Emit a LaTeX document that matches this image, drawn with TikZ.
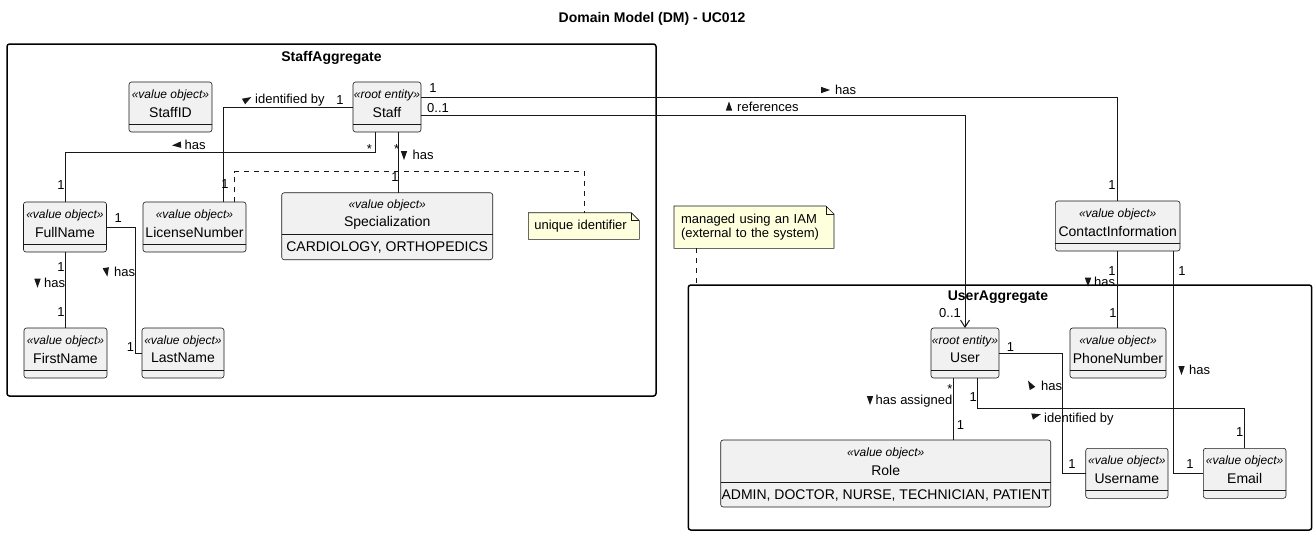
\documentclass[tikz,border=0pt]{standalone}
\usepackage{fontspec}
\setmainfont{Liberation Sans}
\usetikzlibrary{arrows.meta}
\definecolor{clsfill}{HTML}{F1F1F1}
\definecolor{ink}{HTML}{181818}
\definecolor{notefill}{HTML}{FEFFDD}
\tikzset{
  cls/.style={draw=ink, fill=clsfill, line width=0.6pt, rounded corners=2.5pt, inner sep=0pt, outer sep=0pt, anchor=north west},
  clsline/.style={draw=ink, line width=0.6pt},
  stereo/.style={font=\fontsize{12}{14}\selectfont\itshape, inner sep=0pt},
  cname/.style={font=\fontsize{14}{16}\selectfont, inner sep=0pt},
  pkg/.style={draw=black, line width=1.5pt, rounded corners=2.5pt, inner sep=0pt, outer sep=0pt, anchor=north west},
  pkgname/.style={font=\fontsize{14}{16}\selectfont\bfseries, inner sep=0pt},
  assoc/.style={draw=ink, line width=1pt},
  notelink/.style={draw=ink, line width=1pt, dash pattern=on 5pt off 5pt},
  notebox/.style={inner ysep=0pt, outer sep=0pt, anchor=north west, align=left, font=\fontsize{13}{14}\selectfont},
  noteshape/.style={draw=ink, fill=notefill, line width=0.6pt},
  lbl/.style={font=\fontsize{13}{15}\selectfont, inner sep=0pt},
  dirtri/.style={fill=ink},
}
\newcommand\umlbox[6]{%
  \node[cls, minimum width=#4pt, minimum height=50pt] (#1) at (#2,#3) {};
  \draw[clsline] ([yshift=-42pt]#1.north west) -- ([yshift=-42pt]#1.north east);
  \node[stereo] at ([yshift=-13pt]#1.north) {«#5»};
  \node[cname] at ([yshift=-30pt]#1.north) {#6};}
\newcommand\enumbox[7]{%
  \node[cls, minimum width=#4pt, minimum height=67pt] (#1) at (#2,#3) {};
  \draw[clsline] ([yshift=-42pt]#1.north west) -- ([yshift=-42pt]#1.north east);
  \node[stereo] at ([yshift=-13pt]#1.north) {«#5»};
  \node[cname] at ([yshift=-30pt]#1.north) {#6};
  \node[cname] at ([yshift=-55pt]#1.north) {#7};}
\newcommand\noteframe[1]{%
  \path[noteshape] (#1.north west) -- ([xshift=-8pt]#1.north east) -- ([yshift=-8pt]#1.north east) -- (#1.south east) -- (#1.south west) -- cycle;
  \draw[ink, line width=0.6pt] ([xshift=-8pt]#1.north east) |- ([yshift=-8pt]#1.north east);}
% direction triangle: x, y, page angle (counter-clockwise)
\newcommand\dirmark[3]{%
  \fill[dirtri, shift={(#1,#2)}, rotate=#3] (5,0) -- (-4,-3.2) -- (-4,3.2) -- cycle;}
\begin{document}
\begin{tikzpicture}[x=1pt, y=-1pt]
\useasboundingbox (0,0) rectangle (1316,536);
% title
\node[pkgname] (title) at (652,19) {Domain Model (DM) - UC012};
% packages
\node[pkg, minimum width=649pt, minimum height=352pt] (spkg) at (7,44) {};
\node[pkgname] (spkgname) at (331.5,58) {StaffAggregate};
\node[pkg, minimum width=623.4pt, minimum height=245pt] (upkg) at (688.3,285) {};
\node[pkgname] (upkgname) at (998,297) {UserAggregate};
% classes
\umlbox{staffid}{129}{82}{83}{value object}{StaffID}
\umlbox{staff}{353}{82}{68}{root entity}{Staff}
\umlbox{fullname}{23.5}{202}{83}{value object}{FullName}
\umlbox{license}{143}{202}{103}{value object}{LicenseNumber}
\enumbox{special}{281.7}{192.7}{211}{value object}{Specialization}{CARDIOLOGY, ORTHOPEDICS}
\umlbox{firstname}{24}{328}{83}{value object}{FirstName}
\umlbox{lastname}{142}{328}{82}{value object}{LastName}
\umlbox{contact}{1055.4}{201}{124.6}{value object}{ContactInformation}
\umlbox{user}{931}{328}{68}{root entity}{User}
\umlbox{phone}{1070}{328}{96}{value object}{PhoneNumber}
\enumbox{role}{720.7}{440}{330}{value object}{Role}{ADMIN, DOCTOR, NURSE, TECHNICIAN, PATIENT}
\umlbox{username}{1085.7}{448.3}{82.3}{value object}{Username}
\umlbox{email}{1203.3}{448.3}{82.7}{value object}{Email}
% notes
\node[notebox, text width=99pt, inner xsep=6pt, minimum height=26.6pt] (unote) at (528.3,212.7) {};
\noteframe{unote}
\node[notebox, text width=99pt, inner xsep=6pt, minimum height=26.6pt] (unotetext) at (528.3,212.7) {unique identifier};
\node[notebox, text width=146pt, inner xsep=7pt, minimum height=42.3pt] (mnote) at (674,206) {};
\noteframe{mnote}
\node[notebox, text width=146pt, inner xsep=7pt, minimum height=42.3pt] (mnotetext) at (674,206) {managed using an IAM\\(external to the system)};
% connectors StaffAggregate
\draw[assoc] (staff.west) -| ([xshift=28.5pt]license.north);
\draw[assoc] ([xshift=-12pt]staff.south) -- ++(0,20) -| (fullname.north);
\draw[assoc] ([xshift=11.7pt]staff.south) -- ([xshift=11.7pt]staff.south |- special.north);
\draw[assoc] (fullname.south) -- (fullname.south |- firstname.north);
\draw[assoc] (fullname.east) -| ([xshift=-6.5pt]lastname.west) -- (lastname.west);
\draw[notelink] ([xshift=39.8pt]license.north) -- ++(0,-30.3) -| ([xshift=1pt]unote.north);
% cross-package connectors
\draw[assoc] ([yshift=9.3pt]staff.east) -| (contact.north);
\draw[assoc, -{Straight Barb[length=7pt,width=9pt]}] ([yshift=-8pt]staff.east) -| (user.north);
\draw[notelink] ([xshift=-58pt]mnote.south) -- ([xshift=-58pt]mnote.south |- upkg.north);
% connectors UserAggregate
\draw[assoc] (contact.south) -- (contact.south |- phone.north);
\draw[assoc] ([xshift=56pt]contact.south) |- (email.west);
\draw[assoc] ([xshift=-11.2pt]user.south) -- ([xshift=-11.2pt]user.south |- role.north);
\draw[assoc] (user.east) -| ([xshift=-23.2pt]username.west) -- (username.west);
\draw[assoc] ([xshift=12.4pt]user.south) -- ++(0,30) -| (email.north);
% direction marks
\dirmark{247}{99.5}{30}
\dirmark{177}{145}{185}
\dirmark{404}{155}{-90}
\dirmark{37.5}{282.7}{-90}
\dirmark{106.5}{271.7}{-80}
\dirmark{825}{90}{0}
\dirmark{729}{106.5}{90}
\dirmark{1088}{281.7}{-90}
\dirmark{1181.5}{370}{-90}
\dirmark{1030.5}{385}{120}
\dirmark{870}{400}{-90}
\dirmark{1036}{415.5}{15}
% labels StaffAggregate
\node[lbl, anchor=west] (l1) at (255,100) {identified by};
\node[lbl] (m1) at (340,100) {1};
\node[lbl] (m2) at (225,184) {1};
\node[lbl, anchor=west] (l2) at (184.5,145) {has};
\node[lbl] (m3) at (369.3,149) {*};
\node[lbl] (m4) at (61,185) {1};
\node[lbl, anchor=west] (l3) at (412.5,155) {has};
\node[lbl] (m5) at (396.7,149) {*};
\node[lbl] (m6) at (395,176.7) {1};
\node[lbl] (m7) at (61,266.7) {1};
\node[lbl, anchor=west] (l4) at (44,282.7) {has};
\node[lbl] (m8) at (61,311.7) {1};
\node[lbl] (m9) at (118.3,218.3) {1};
\node[lbl, anchor=west] (l5) at (114,271.7) {has};
\node[lbl] (m10) at (130.5,346.7) {1};
% labels cross
\node[lbl] (m11) at (433,88.5) {1};
\node[lbl] (m12) at (438,108.3) {0..1};
\node[lbl, anchor=west] (l6) at (835,90) {has};
\node[lbl, anchor=west] (l7) at (737,107.3) {references};
\node[lbl] (m13) at (1112,185) {1};
% labels UserAggregate
\node[lbl] (m14) at (1112,271) {1};
\node[lbl, anchor=west] (l8) at (1094,281.7) {has};
\node[lbl] (m15) at (1182,271) {1};
\node[lbl] (m16) at (950,313.3) {0..1};
\node[lbl] (m17) at (1113,313.3) {1};
\node[lbl] (m18) at (1010.5,346.7) {1};
\node[lbl, anchor=west] (l9) at (1189,370) {has};
\node[lbl, anchor=west] (l10) at (1041,386) {has};
\node[lbl] (m19) at (950,389) {*};
\node[lbl, anchor=west] (l11) at (875.5,401.5) {has assigned};
\node[lbl] (m20) at (973.2,396.7) {1};
\node[lbl, anchor=west] (l12) at (1044,419.5) {identified by};
\node[lbl] (m21) at (960.6,425) {1};
\node[lbl] (m22) at (1239.6,431.7) {1};
\node[lbl] (m23) at (1072,464) {1};
\node[lbl] (m24) at (1190,464) {1};
\end{tikzpicture}
\end{document}
